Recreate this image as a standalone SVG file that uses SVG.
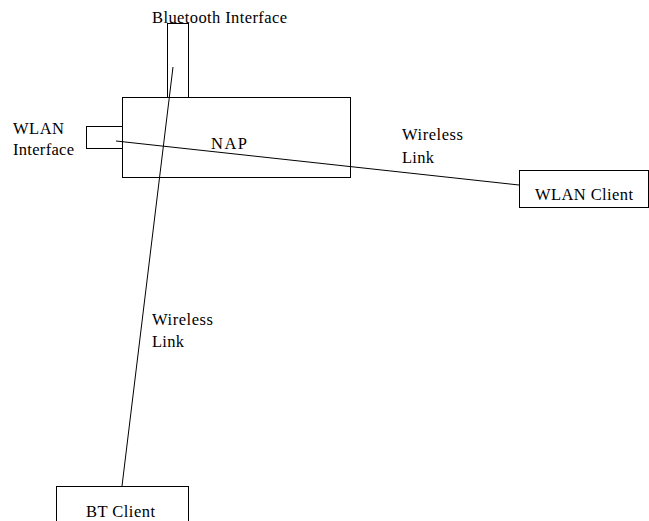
<svg xmlns="http://www.w3.org/2000/svg" width="649" height="521" viewBox="0 0 649 521">
<style>
rect{fill:none;stroke:#000;stroke-width:1}
line{stroke:#000;stroke-width:1}
text{font-family:"Liberation Serif","Times New Roman",serif;font-size:16.5px;fill:#000}
</style>
<rect x="0" y="0" width="649" height="521" style="fill:#fff;stroke:none"/>
<g id="connectors">
<line x1="116" y1="141" x2="519" y2="185"/>
<line x1="173" y1="67" x2="122" y2="486"/>
</g>
<g id="nap">
<rect x="122.5" y="97.5" width="228" height="80"/>
<text x="211" y="149" textLength="36" lengthAdjust="spacing">NAP</text>
</g>
<g id="bt-interface">
<rect x="167.5" y="23.5" width="21" height="74"/>
<text x="152" y="22.5" textLength="135" lengthAdjust="spacing">Bluetooth Interface</text>
</g>
<g id="wlan-interface">
<rect x="86.5" y="126.5" width="36" height="22"/>
<text x="13" y="134" textLength="51" lengthAdjust="spacing">WLAN</text>
<text x="13" y="155" textLength="61" lengthAdjust="spacing">Interface</text>
</g>
<g id="wlan-client">
<rect x="519.5" y="170.5" width="129" height="37"/>
<text x="535" y="200" textLength="98" lengthAdjust="spacing">WLAN Client</text>
</g>
<g id="bt-client">
<rect x="56.5" y="486.5" width="132" height="40"/>
<text x="86" y="517" textLength="69" lengthAdjust="spacing">BT Client</text>
</g>
<g id="labels">
<text x="402" y="140" textLength="61" lengthAdjust="spacing">Wireless</text>
<text x="402" y="163" textLength="32" lengthAdjust="spacing">Link</text>
<text x="152" y="325" textLength="61" lengthAdjust="spacing">Wireless</text>
<text x="152" y="347" textLength="32" lengthAdjust="spacing">Link</text>
</g>
</svg>
